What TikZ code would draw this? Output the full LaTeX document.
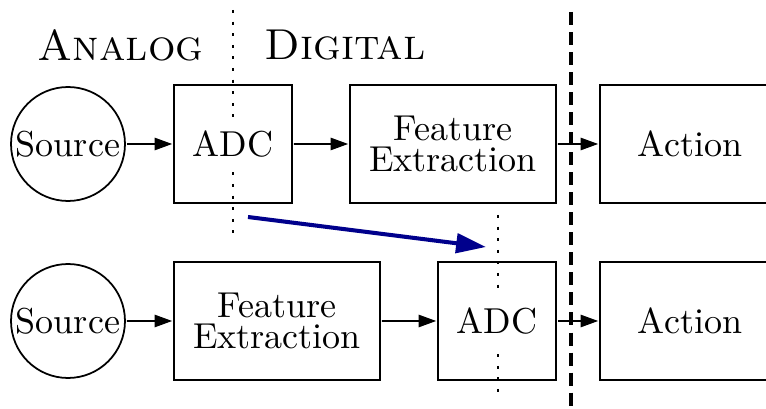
\documentclass[tikz,border=0pt]{standalone}
\usetikzlibrary{positioning,arrows.meta}
\definecolor{shiftblue}{RGB}{0,0,140}

\begin{document}
\begin{tikzpicture}[
    every node/.style={scale=2.05,font=\fontsize{10}{8.4}\selectfont},
    blk/.style={draw,line width=1pt,minimum height=1.151cm,inner sep=0pt,align=center},
    src/.style={draw,circle,line width=1pt,minimum size=1.112cm,inner sep=0pt},
    flow/.style={line width=1pt,-{Triangle[length=10pt,width=7pt]}},
    split/.style={line width=0.9pt,dash pattern=on 1.7pt off 4.9pt},
    boundary/.style={line width=2.5pt,dash pattern=on 7.4pt off 4pt},
    side/.style={font=\large\scshape}]
    \clip (0,0) rectangle (15.32,-8.18);
    \node[side] (analog) at (2.41,-0.9) {Analog};
    \node[side] (digital) at (6.9,-0.9) {Digital};
    \coordinate (cut1top) at (4.66,-0.2);
    \coordinate (cut1bot) at (4.66,-4.74);
    \coordinate (cut2top) at (9.96,-4.3);
    \coordinate (cut2bot) at (9.96,-8.0);
    \draw[split] (cut1top) -- (cut1bot);
    \draw[split] (cut2top) -- (cut2bot);
    \node[src] (src1) at (1.36,-2.88) {Source};
    \node[blk,minimum width=1.151cm,label={[fill=white]center:ADC}] (adc1) at (4.66,-2.88) {};
    \node[blk,minimum width=2.01cm] (fe1) at (9.06,-2.88) {Feature\\Extraction};
    \node[blk,minimum width=1.756cm] (act1) at (13.8,-2.88) {Action};
    \node[src] (src2) at (1.36,-6.42) {Source};
    \node[blk,minimum width=2.01cm] (fe2) at (5.54,-6.42) {Feature\\Extraction};
    \node[blk,minimum width=1.151cm,label={[fill=white]center:ADC}] (adc2) at (9.94,-6.42) {};
    \node[blk,minimum width=1.756cm] (act2) at (13.8,-6.42) {Action};
    \draw[flow] (src1) -- (adc1);
    \draw[flow] (adc1) -- (fe1);
    \draw[flow] (fe1) -- (act1);
    \draw[flow] (src2) -- (fe2);
    \draw[flow] (fe2) -- (adc2);
    \draw[flow] (adc2) -- (act2);
    \coordinate (bndtop) at (11.42,-0.24);
    \coordinate (bndbot) at (11.42,-8.3);
    \draw[boundary] (bndtop) -- (bndbot);
    \coordinate (shiftfrom) at (4.96,-4.34);
    \coordinate (shiftto) at (9.72,-4.94);
    \draw[shiftblue,line width=2.3pt,-{Triangle[length=17pt,width=11pt]}] (shiftfrom) -- (shiftto);
\end{tikzpicture}
\end{document}
